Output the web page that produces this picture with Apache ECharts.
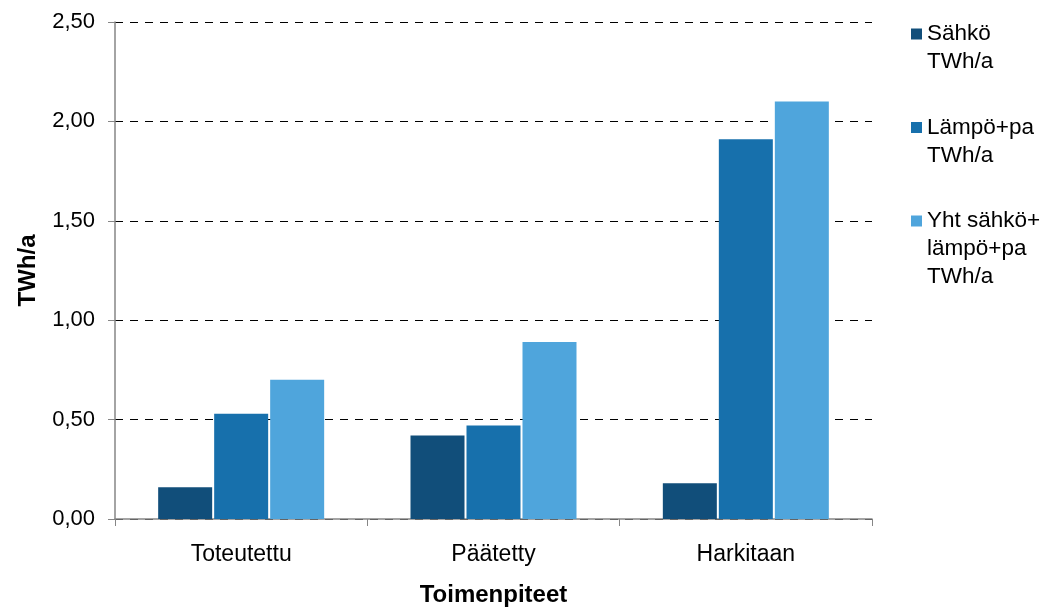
<!DOCTYPE html>
<html><head><meta charset="utf-8">
<script src="https://cdn.jsdelivr.net/npm/echarts@6/dist/echarts.min.js"></script>
<style>html,body{margin:0;padding:0;background:#fff}#c{width:1058px;height:612px}</style>
</head><body><div id="c"></div>
<script>
const categories = ['Toteutettu', 'Päätetty', 'Harkitaan'];
const sahko = [0.16, 0.42, 0.18];
const lampo = [0.53, 0.47, 1.91];
const yht = [0.70, 0.89, 2.10];
const seriesNames = ['Sähkö\nTWh/a', 'Lämpö+pa\nTWh/a', 'Yht sähkö+\nlämpö+pa\nTWh/a'];
const colors = ['#114E7A', '#1770AC', '#4FA5DC'];

const font = 'Liberation Sans, Arial, sans-serif';
const chart = echarts.init(document.getElementById('c'));
const lh = 28;
const iconCenters = [34, 127.5, 221];

function legendFor(i) {
  const n = seriesNames[i].split('\n').length;
  const boxH = (2 * n - 1) * lh;
  return {
    orient: 'vertical', left: 911, top: iconCenters[i] - boxH / 2, padding: 0,
    itemWidth: 11, itemHeight: 11, icon: 'rect',
    textStyle: { fontSize: 22.5, color: '#000', lineHeight: lh, fontFamily: font },
    formatter: name => '\n'.repeat(n - 1) + name,
    data: [seriesNames[i]]
  };
}

chart.setOption({
  animation: false,
  textStyle: { fontFamily: font },
  grid: { left: 115, right: 186, top: 22, bottom: 92, containLabel: false },
  legend: [legendFor(0), legendFor(1), legendFor(2)],
  xAxis: {
    type: 'category', data: categories,
    name: 'Toimenpiteet', nameLocation: 'middle', nameGap: 64,
    nameTextStyle: { fontSize: 24, fontWeight: 'bold', color: '#000' },
    axisLine: { lineStyle: { color: '#868686', width: 1.5 } },
    axisTick: { show: true, length: 7, lineStyle: { color: '#868686' } },
    axisLabel: { fontSize: 23, color: '#000', margin: 24 }
  },
  yAxis: {
    type: 'value', min: 0, max: 2.5, interval: 0.5,
    name: 'TWh/a', nameLocation: 'middle', nameGap: 75, nameRotate: 90,
    nameTextStyle: { fontSize: 24, fontWeight: 'bold', color: '#000' },
    axisLine: { show: true, lineStyle: { color: '#868686', width: 1.5 } },
    axisTick: { show: true, length: 7, lineStyle: { color: '#868686' } },
    axisLabel: { fontSize: 22, color: '#000', margin: 20,
      formatter: v => v.toFixed(2).replace('.', ',') },
    splitLine: { show: true, lineStyle: { color: '#000', type: [8, 7], width: 1 } }
  },
  series: [
    { name: seriesNames[0], type: 'bar', data: sahko, barWidth: 54, barGap: '3.7%', itemStyle: { color: colors[0] } },
    { name: seriesNames[1], type: 'bar', data: lampo, barWidth: 54, barGap: '3.7%', itemStyle: { color: colors[1] } },
    { name: seriesNames[2], type: 'bar', data: yht, barWidth: 54, barGap: '3.7%', itemStyle: { color: colors[2] } }
  ]
});
</script></body></html>
